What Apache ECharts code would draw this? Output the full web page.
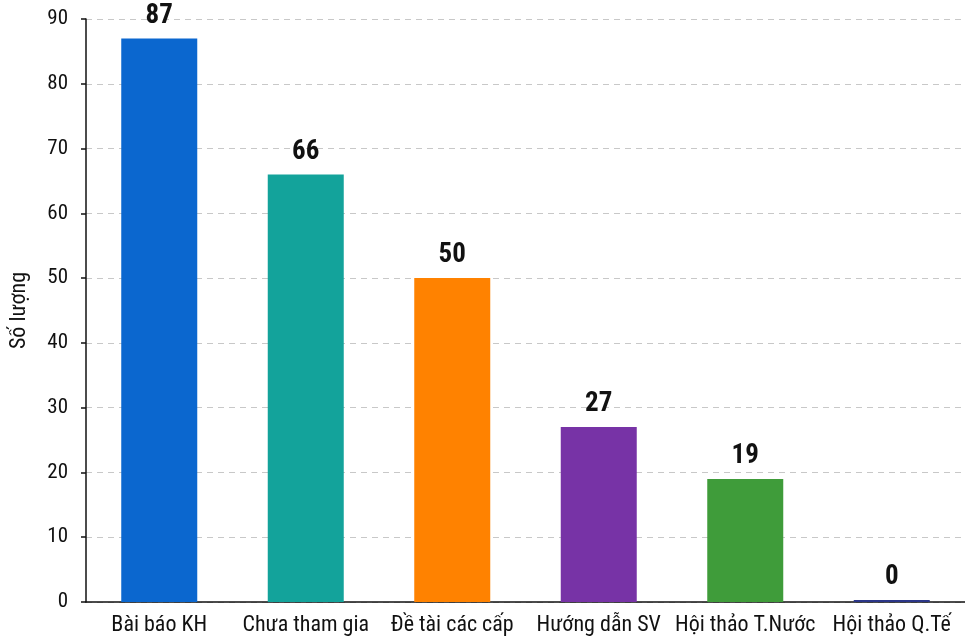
<!DOCTYPE html>
<html>
<head>
<meta charset="utf-8">
<script src="https://cdn.jsdelivr.net/npm/echarts@6/dist/echarts.min.js"></script>
<style>
  html, body { margin: 0; padding: 0; background: #ffffff; }
  #chart { width: 965px; height: 638px; }
</style>
</head>
<body>
<div id="chart"></div>
<script>
// Research activity counts per category
const categories = ['Bài báo KH', 'Chưa tham gia', 'Đề tài các cấp', 'Hướng dẫn SV', 'Hội thảo T.Nước', 'Hội thảo Q.Tế'];
const counts = [87, 66, 50, 27, 19, 0];
const barColors = ['#0b67cf', '#13a39b', '#ff8200', '#7733a6', '#3f9c3a', '#2b3688'];
const yTicks = { min: 0, max: 90, interval: 10 };

const FONT = '"Roboto Condensed", "Liberation Sans", Arial, sans-serif';
const chart = echarts.init(document.getElementById('chart'), null, { renderer: 'canvas' });

chart.setOption({
  backgroundColor: '#ffffff',
  animation: false,
  grid: { left: 82, right: -5, top: 19, bottom: 36, containLabel: false },
  xAxis: {
    type: 'category',
    data: categories,
    axisLine: { show: true, lineStyle: { color: '#111', width: 1.5 } },
    axisTick: { show: false },
    axisLabel: { color: '#111', fontSize: 22, fontFamily: FONT, margin: 12, interval: 0 },
    splitLine: { show: false }
  },
  yAxis: {
    type: 'value',
    min: yTicks.min,
    max: yTicks.max,
    interval: yTicks.interval,
    name: 'Số lượng',
    nameLocation: 'middle',
    nameGap: 56,
    nameMoveOverlap: false,
    nameRotate: 90,
    nameTextStyle: { color: '#111', fontSize: 22, fontFamily: FONT },
    axisLine: { show: true, lineStyle: { color: '#111', width: 1.5 } },
    axisTick: { show: true, length: 5, lineStyle: { color: '#111', width: 1.5 } },
    axisLabel: { color: '#111', fontSize: 21, fontFamily: FONT, margin: 18 },
    splitLine: { show: true, lineStyle: { color: '#c8c8c8', type: [6, 5], width: 1 } }
  },
  series: [{
    type: 'bar',
    data: counts.map((v, i) => ({ value: v, itemStyle: { color: barColors[i] } })),
    barWidth: 76,
    barMinHeight: 2,
    label: {
      show: true,
      position: 'top',
      distance: 9,
      color: '#111',
      fontSize: 27,
      fontWeight: 'bold',
      fontFamily: FONT
    }
  }]
});
</script>
</body>
</html>
